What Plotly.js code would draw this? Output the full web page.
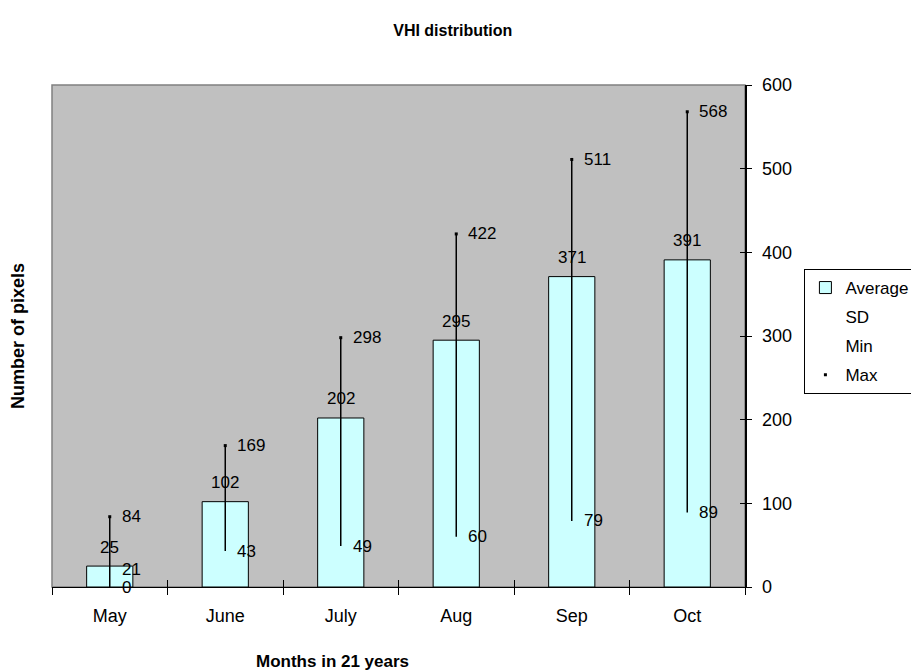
<!DOCTYPE html>
<html>
<head>
<meta charset="utf-8">
<script src="https://cdn.plot.ly/plotly-3.0.1.min.js"></script>
<style>html,body{margin:0;padding:0;background:#fff;}#chart{width:911px;height:672px;}</style>
</head>
<body>
<div id="chart"></div>
<script>
// ---- data ----
const months = ['May', 'June', 'July', 'Aug', 'Sep', 'Oct'];
const average = [25, 102, 202, 295, 371, 391];
const sd = [21, null, null, null, null, null];
const minVals = [0, 43, 49, 60, 79, 89];
const maxVals = [84, 169, 298, 422, 511, 568];
const yTicks = [0, 100, 200, 300, 400, 500, 600];

const FONT = 'Liberation Sans, Arial, sans-serif';
const fs = 17;      // data labels
const tfs = 18;     // tick labels

// high-low lines from lowest to highest of SD/Min/Max
const hlX = [], hlY = [];
months.forEach((m, i) => {
  const lows = [sd[i], minVals[i]].filter(v => v !== null);
  hlX.push(m, m, null);
  hlY.push(Math.min(...lows), maxVals[i], null);
});

const traces = [
  {
    type: 'bar', name: 'Average', legendgroup: 'a', x: months, y: average,
    width: 0.4,
    marker: {color: '#CCFFFF', line: {color: '#000', width: 1}},
    hoverinfo: 'x+y'
  },
  {
    type: 'scatter', mode: 'lines', x: hlX, y: hlY, showlegend: false,
    line: {color: '#000', width: 1.5}, hoverinfo: 'skip'
  },
  {
    type: 'scatter', mode: 'markers', name: 'SD', legendgroup: 'b', x: months, y: sd,
    marker: {color: 'rgba(0,0,0,0)', size: 4}
  },
  {
    type: 'scatter', mode: 'markers', name: 'Min', legendgroup: 'c', x: months, y: minVals,
    marker: {color: 'rgba(0,0,0,0)', size: 4}
  },
  {
    type: 'scatter', mode: 'markers', name: 'Max', legendgroup: 'd', x: months, y: maxVals,
    marker: {color: '#000', size: 3, symbol: 'square'}, cliponaxis: false
  }
];

// data labels built from the arrays
const labelFont = {family: FONT, size: fs, color: '#000'};
const annotations = [];
months.forEach((m, i) => {
  annotations.push({x: m, y: average[i], xref: 'x', yref: 'y', text: String(average[i]),
    showarrow: false, xanchor: 'center', yanchor: 'middle', yshift: 19, font: labelFont});
  annotations.push({x: m, y: maxVals[i], xref: 'x', yref: 'y', text: String(maxVals[i]),
    showarrow: false, xanchor: 'left', yanchor: 'middle', xshift: 10, font: labelFont});
  annotations.push({x: m, y: minVals[i], xref: 'x', yref: 'y', text: String(minVals[i]),
    showarrow: false, xanchor: 'left', yanchor: 'middle', xshift: 10, font: labelFont});
  if (sd[i] !== null) {
    annotations.push({x: m, y: sd[i], xref: 'x', yref: 'y', text: String(sd[i]),
      showarrow: false, xanchor: 'left', yanchor: 'middle', xshift: 10, font: labelFont});
  }
});
annotations.push(
  {text: '<b>Number of pixels</b>', xref: 'paper', yref: 'paper', x: -0.049, y: 0.5,
   textangle: -90, showarrow: false, xanchor: 'center', yanchor: 'middle',
   font: {family: FONT, size: 18, color: '#000'}},
  {text: '<b>Months in 21 years</b>', xref: 'paper', yref: 'paper', x: 0.405, y: -0.149,
   showarrow: false, xanchor: 'center', yanchor: 'middle',
   font: {family: FONT, size: 17, color: '#000'}}
);

const boundaries = months.map((_, i) => i - 0.5).concat([months.length - 0.5]);

const layout = {
  width: 911, height: 672,
  margin: {l: 52, r: 166, t: 85, b: 85, autoexpand: false},
  paper_bgcolor: '#fff', plot_bgcolor: '#C0C0C0',
  font: {family: FONT, size: fs, color: '#000'},
  title: {text: '<b>VHI distribution</b>', x: 0.497, xanchor: 'center', y: 0.955, yanchor: 'middle',
          font: {family: FONT, size: 16, color: '#000'}},
  showlegend: true,
  legend: {xref: 'container', yref: 'container', x: 0.883, xanchor: 'left', y: 1 - 269 / 672, yanchor: 'top',
           bgcolor: '#fff', bordercolor: '#000', borderwidth: 1,
           font: {family: FONT, size: 17, color: '#000'},
           traceorder: 'grouped', tracegroupgap: 4},
  xaxis: {
    type: 'category', range: [-0.5, months.length - 0.5], tickson: 'boundaries',
    ticks: 'outside', ticklen: 7, tickcolor: '#000', tickwidth: 1,
    showline: true, linecolor: '#000', linewidth: 1, showgrid: false, zeroline: false,
    tickfont: {family: FONT, size: tfs, color: '#000'}, ticklabelstandoff: 12, fixedrange: true
  },
  xaxis2: {
    overlaying: 'x', range: [-0.5, months.length - 0.5], tickmode: 'array', tickvals: boundaries,
    ticks: 'inside', ticklen: 7, tickcolor: '#000', showticklabels: false,
    showline: false, showgrid: false, zeroline: false, side: 'bottom', anchor: 'y'
  },
  yaxis: {
    side: 'right', range: [0, 600], tickmode: 'array', tickvals: yTicks,
    ticks: 'outside', ticklen: 5, tickcolor: '#000', showline: true, linecolor: '#000', linewidth: 1.5,
    showgrid: false, zeroline: false, tickfont: {family: FONT, size: tfs, color: '#000'},
    ticklabelstandoff: 7, fixedrange: true
  },
  yaxis2: {
    overlaying: 'y', side: 'right', range: [0, 600], tickmode: 'array', tickvals: yTicks,
    ticks: 'inside', ticklen: 5, tickcolor: '#000', showticklabels: false,
    showline: false, showgrid: false, zeroline: false, anchor: 'x'
  },
  shapes: [
    {type: 'rect', xref: 'paper', yref: 'paper', x0: 0, x1: 1, y0: 0, y1: 1,
     line: {color: '#808080', width: 1.5}, layer: 'below'}
  ],
  annotations: annotations
};

// invisible trace so overlay axes render
traces.push({type: 'scatter', mode: 'markers', x: [0], y: [0], xaxis: 'x2', yaxis: 'y2',
  marker: {opacity: 0}, showlegend: false, hoverinfo: 'skip'});

Plotly.newPlot('chart', traces, layout, {displayModeBar: false, staticPlot: true});
</script>
</body>
</html>
